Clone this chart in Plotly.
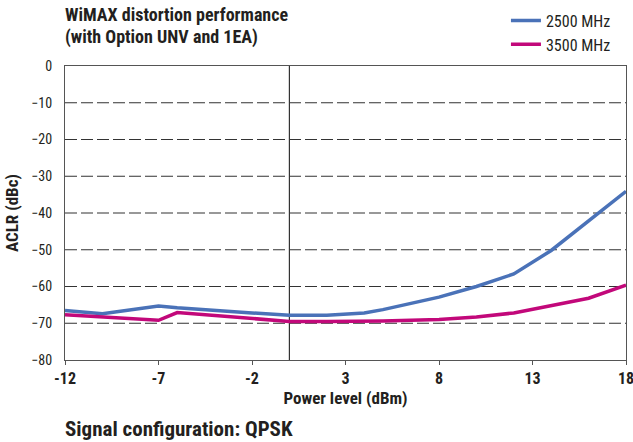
import plotly.graph_objects as go

# data
power_2500 = [-12, -10, -7, -6, -2, 0, 2, 4, 5, 8, 10, 12, 14, 16, 18]
aclr_2500 = [-66.5, -67.4, -65.3, -65.8, -67.2, -67.8, -67.8, -67.2, -66.3, -62.9, -60.0, -56.6, -50.2, -42.3, -34.1]

power_3500 = [-12, -10, -7, -6, -2, 0, 2, 4, 5, 8, 10, 12, 14, 16, 18]
aclr_3500 = [-67.7, -68.3, -69.2, -67.1, -68.7, -69.5, -69.5, -69.5, -69.4, -69.0, -68.3, -67.2, -65.1, -63.2, -59.6]

x_ticks = [-12, -7, -2, 3, 8, 13, 18]
y_ticks = [0, -10, -20, -30, -40, -50, -60, -70, -80]
grid_levels = [-10, -20, -30, -40, -50, -60, -70]

FONT = 'Roboto Condensed, Open Sans Condensed, Noto Sans Condensed, DejaVu Sans Condensed'
INK = '#231f20'

fig = go.Figure()
fig.add_trace(go.Scatter(x=power_2500, y=aclr_2500, mode='lines', name='2500 MHz',
                         line=dict(color='#4a72b8', width=3.5)))
fig.add_trace(go.Scatter(x=power_3500, y=aclr_3500, mode='lines', name='3500 MHz',
                         line=dict(color='#c2087a', width=3.5)))

# dashed horizontal gridlines
for g in grid_levels:
    fig.add_shape(type='line', xref='paper', yref='y', x0=0, x1=1, y0=g, y1=g,
                  line=dict(color='#333333', width=1.2, dash='12px,4px'), layer='below')
# vertical line at 0 dBm
fig.add_shape(type='line', xref='x', yref='paper', x0=0, x1=0, y0=0, y1=1,
              line=dict(color='#333333', width=1.2), layer='below')

# title (two lines) and footer note
fig.add_annotation(text='<b>WiMAX distortion performance</b>',
                   xref='paper', yref='paper', x=-0.004, y=1.176, xanchor='left', yanchor='middle',
                   showarrow=False, font=dict(size=18, color=INK, family=FONT))
fig.add_annotation(text='<b>(with Option UNV and 1EA)</b>',
                   xref='paper', yref='paper', x=-0.004, y=1.1, xanchor='left', yanchor='middle',
                   showarrow=False, font=dict(size=18, color=INK, family=FONT))
fig.add_annotation(text='<b>Signal configuration: QPSK</b>',
                   xref='paper', yref='paper', x=-0.004, y=-0.235, xanchor='left', yanchor='middle',
                   showarrow=False, font=dict(size=21, color=INK, family=FONT))

fig.update_layout(
    width=633, height=442,
    margin=dict(l=65, r=7, t=66, b=82, autoexpand=False),
    paper_bgcolor='white', plot_bgcolor='white',
    font=dict(family=FONT, color=INK, size=14),
    showlegend=True,
    legend=dict(x=0.786, xanchor='left', y=1.212, yanchor='top',
                font=dict(size=16, family=FONT, color=INK), bgcolor='rgba(0,0,0,0)',
                tracegroupgap=0, itemwidth=30),
    xaxis=dict(range=[-12, 18], tickvals=x_ticks, ticktext=[f'<b>{v}</b>' for v in x_ticks],
               showgrid=False, zeroline=False, showline=True, linecolor='#555555', linewidth=1.2,
               mirror=True, ticks='outside', ticklen=4, tickcolor='#555555',
               ticklabeloverflow='allow',
               tickfont=dict(size=16, family=FONT, color=INK),
               title=dict(text='<b>Power level (dBm)</b>', font=dict(size=17, family=FONT, color=INK),
                          standoff=0)),
    yaxis=dict(range=[-80, 0], tickvals=y_ticks, showgrid=False, zeroline=False, showline=True,
               linecolor='#555555', linewidth=1.2, mirror=True, ticks='', ticklabelstandoff=9,
               tickfont=dict(size=14, family=FONT, color=INK),
               title=dict(text='<b>ACLR (dBc)</b>', font=dict(size=17, family=FONT, color=INK),
                          standoff=8)),
)

fig.write_html('out.html', config={'displayModeBar': False},
               post_script="document.body.style.margin='0';")
